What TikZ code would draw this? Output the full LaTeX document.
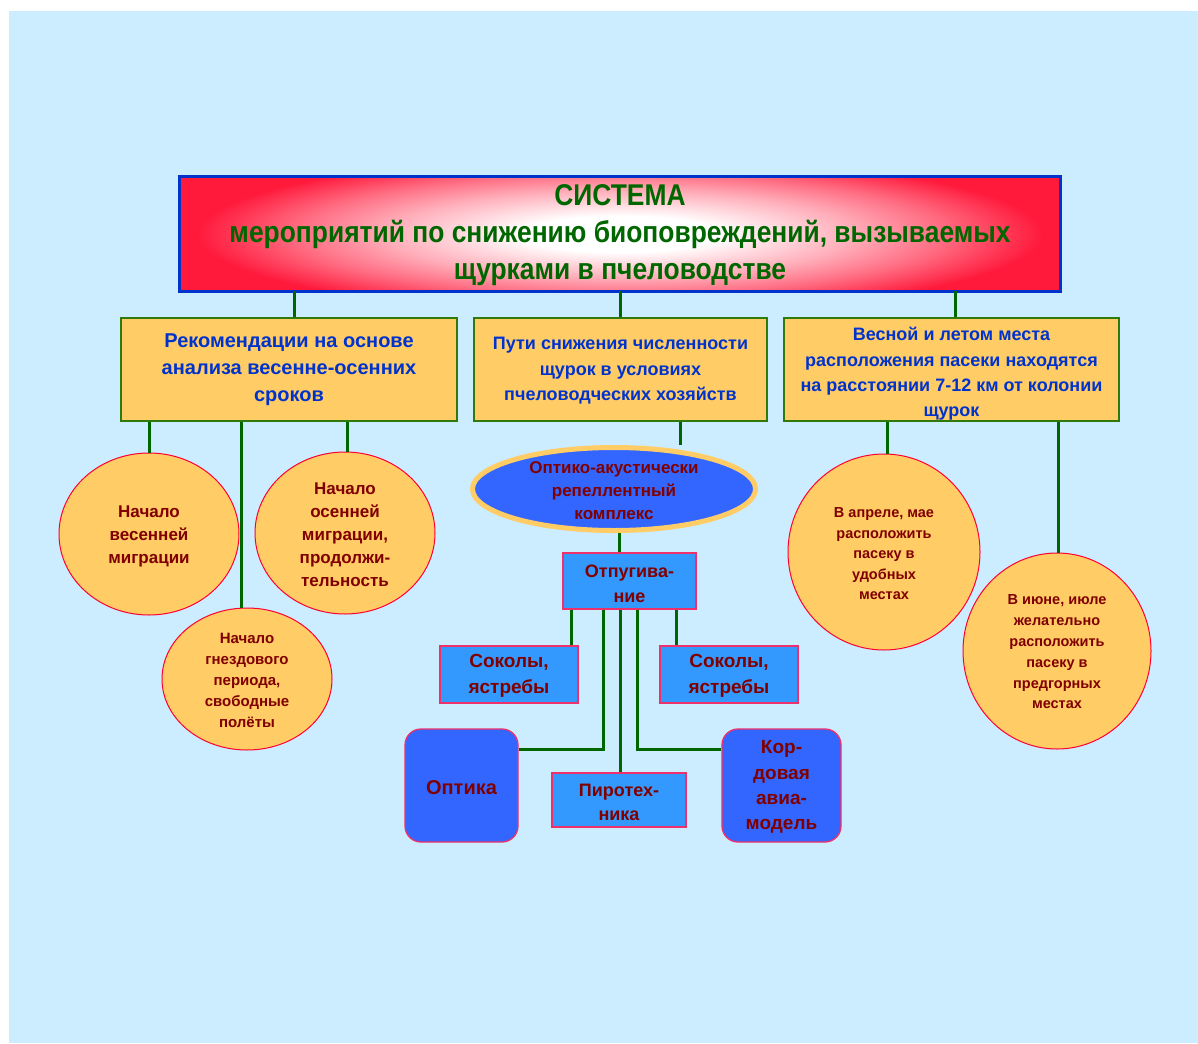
\documentclass[tikz,border=0pt]{standalone}
\usepackage{fontspec}
\setmainfont{Liberation Sans}
\newfontfamily\titlefont[FakeStretch=0.88]{Liberation Sans}
\usetikzlibrary{shapes.geometric}
\definecolor{bgblue}{HTML}{CCECFF}
\definecolor{tred}{HTML}{FF1A3C}
\definecolor{tborder}{HTML}{0033CC}
\definecolor{dgreen}{HTML}{006600}
\definecolor{bfill}{HTML}{FFCC66}
\definecolor{bborder}{HTML}{2F7A0A}
\definecolor{btext}{HTML}{0033CC}
\definecolor{cborder}{HTML}{FF0033}
\definecolor{dred}{HTML}{800000}
\definecolor{eblue}{HTML}{3366FF}
\definecolor{lblue}{HTML}{3399FF}
\definecolor{pborder}{HTML}{F0306A}
\pgfdeclareradialshading{titleshade}{\pgfpoint{0bp}{0bp}}{color(0bp)=(white); color(5bp)=(white); color(12bp)=(tred!35!white); color(17bp)=(tred!65!white); color(22bp)=(tred); color(50bp)=(tred)}
\tikzset{
  fs/.style n args={2}{font=\fontsize{#1}{#2}\selectfont\bfseries},
  topbox/.style={draw=bborder, line width=1.3pt, fill=bfill, text=btext, align=center, inner sep=0pt},
  oval/.style={ellipse, draw=cborder, line width=1pt, fill=bfill, text=dred, align=center, inner sep=0pt},
  bluebox/.style={draw=pborder, line width=1.3pt, fill=lblue, text=dred, align=center, inner sep=0pt},
  roundbox/.style={draw=pborder, line width=1.3pt, fill=eblue, text=dred, align=center, inner sep=0pt, rounded corners=16pt},
  conn/.style={draw=dgreen, line width=3pt},
  txt/.style={align=center, inner sep=0pt}
}
\begin{document}
\begin{tikzpicture}[x=1pt,y=-1pt]
\useasboundingbox (0,0) rectangle (1198,1043);
\fill[bgblue] (9,11) rectangle (1198,1043);

% coordinates for connector x positions
\coordinate (xa) at (294,0);
\coordinate (xb) at (620,0);
\coordinate (xc) at (955,0);
\coordinate (x1) at (149,0);
\coordinate (x2) at (241,0);
\coordinate (x3) at (347,0);
\coordinate (x4) at (680,0);
\coordinate (x5) at (887,0);
\coordinate (x6) at (1058,0);
\coordinate (x7) at (619,0);
\coordinate (o1) at (571,0);
\coordinate (o2) at (603,0);
\coordinate (o3) at (620,0);
\coordinate (o4) at (637,0);
\coordinate (o5) at (676,0);
\coordinate (yl) at (0,749);

% title
\node[fill=tred, minimum width=880pt, minimum height=114pt, inner sep=0pt,
  path picture={\shade[shading=titleshade] (path picture bounding box.center) ellipse (480pt and 90pt);}] (title) at (620,234) {};
\draw[tborder, line width=3pt] (title.north west) rectangle (title.south east);
\node[txt, text=dgreen, font=\titlefont\fontsize{30}{37}\selectfont\bfseries] (titletext) at (620,235) {СИСТЕМА\\мероприятий по снижению биоповреждений, вызываемых\\щурками в пчеловодстве};

% top boxes
\node[topbox, minimum width=336pt, minimum height=103pt] (b1) at (289,369.5) {};
\node[txt, text=btext, fs={20}{27}] (b1t) at (289,370) {Рекомендации на основе\\анализа весенне-осенних\\сроков};
\node[topbox, minimum width=293pt, minimum height=103pt] (b2) at (620.5,369.5) {};
\node[txt, text=btext, fs={18}{25.5}] (b2t) at (620.5,371) {Пути снижения численности\\щурок в условиях\\пчеловодческих хозяйств};
\node[topbox, minimum width=335pt, minimum height=103pt] (b3) at (951.5,369.5) {};
\node[txt, text=btext, fs={18}{25.3}] (b3t) at (951.5,374) {Весной и летом места\\расположения пасеки находятся\\на расстоянии 7-12 км от колонии\\щурок};

\draw[conn] (title.south -| xa) -- (b1.north -| xa);
\draw[conn] (title.south -| xb) -- (b2.north -| xb);
\draw[conn] (title.south -| xc) -- (b3.north -| xc);

% left ovals
\node[oval, minimum width=180pt, minimum height=162pt] (c1) at (149,534) {};
\node[txt, text=dred, fs={17}{23}] (c1t) at (149,536) {Начало\\весенней\\миграции};
\node[oval, minimum width=180pt, minimum height=162pt] (c2) at (345,533) {};
\node[txt, text=dred, fs={17}{23}] (c2t) at (345,535) {Начало\\осенней\\миграции,\\продолжи-\\тельность};
\node[oval, minimum width=170pt, minimum height=142pt] (c3) at (247,679) {};
\node[txt, text=dred, fs={15}{21}] (c3t) at (247,680) {Начало\\гнездового\\периода,\\свободные\\полёты};

\draw[conn] (b1.south -| x1) -- (c1.north -| x1);
\draw[conn] (b1.south -| x2) -- (c3.north -| x2);
\draw[conn] (b1.south -| x3) -- (c2.north -| x3);

% right ovals
\node[oval, minimum width=192pt, minimum height=196pt] (c4) at (884,552) {};
\node[txt, text=dred, fs={14.5}{20.5}] (c4t) at (884,554) {В апреле, мае\\расположить\\пасеку в\\удобных\\местах};
\node[oval, minimum width=188pt, minimum height=196pt] (c5) at (1057,651) {};
\node[txt, text=dred, fs={14.5}{20.8}] (c5t) at (1057,652) {В июне, июле\\желательно\\расположить\\пасеку в\\предгорных\\местах};

\draw[conn] (b3.south -| x5) -- (c4.north -| x5);
\draw[conn] (b3.south -| x6) -- (c5.north -| x6);

% central ellipse
\node[ellipse, draw=bfill, line width=5pt, fill=eblue, minimum width=283pt, minimum height=83pt, inner sep=0pt] (el) at (614,489) {};
\node[txt, text=dred, fs={17}{23}] (elt) at (614,491) {Оптико-акустически\\репеллентный\\комплекс};
\draw[conn] (b2.south -| x4) -- (el.north -| x4);

% Отпугивание
\node[bluebox, minimum width=133pt, minimum height=56pt] (otp) at (629.5,581) {};
\node[txt, text=dred, fs={18}{25}] (otpt) at (629.5,583.5) {Отпугива-\\ние};
\draw[conn] (el.south -| x7) -- (otp.north -| x7);

% lower boxes
\node[bluebox, minimum width=138pt, minimum height=57pt] (sl) at (509,674.5) {};
\node[txt, text=dred, fs={19}{26}] (slt) at (509,675.5) {Соколы,\\ястребы};
\node[bluebox, minimum width=138pt, minimum height=57pt] (sr) at (729,674.5) {};
\node[txt, text=dred, fs={19}{26}] (srt) at (729,675.5) {Соколы,\\ястребы};
\node[roundbox, minimum width=113pt, minimum height=113pt] (opt) at (461.5,785.5) {};
\node[txt, text=dred, fs={20}{26}] (optt) at (461.5,788) {Оптика};
\node[bluebox, minimum width=134pt, minimum height=54pt] (pir) at (619,800) {};
\node[txt, text=dred, fs={18}{24}] (pirt) at (619,802) {Пиротех-\\ника};
\node[roundbox, minimum width=119pt, minimum height=113pt] (kor) at (781.5,785.5) {};
\node[txt, text=dred, fs={19}{25.3}] (kort) at (781.5,787) {Кор-\\довая\\авиа-\\модель};

\draw[conn] (otp.south -| o1) -- (sl.north -| o1);
\draw[conn] (otp.south -| o5) -- (sr.north -| o5);
\draw[conn] (otp.south -| o3) -- (pir.north -| o3);
\draw[conn] (otp.south -| o2) |- (opt.east |- yl);
\draw[conn] (otp.south -| o4) |- (kor.west |- yl);
\end{tikzpicture}
\end{document}
